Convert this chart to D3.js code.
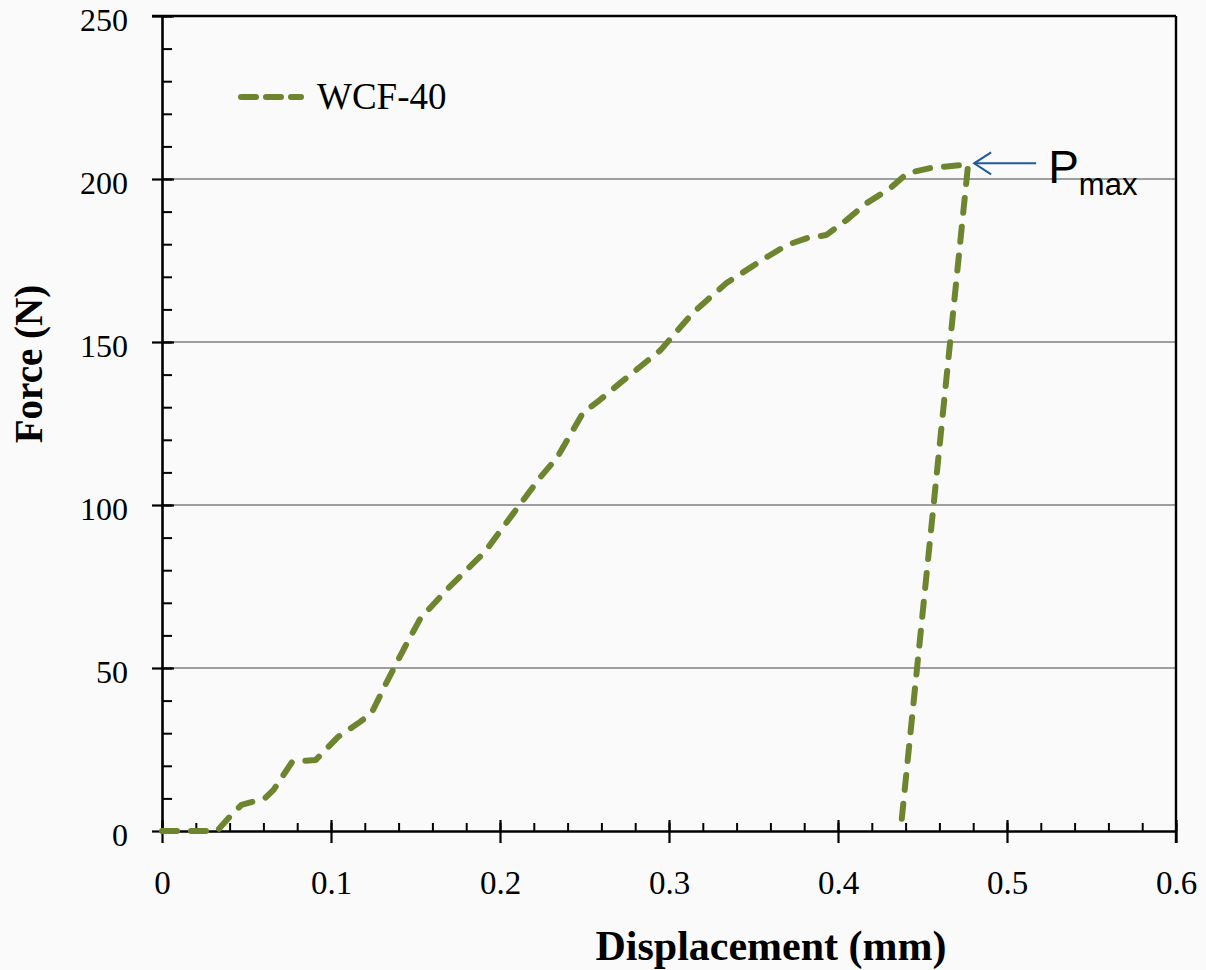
<!DOCTYPE html>
<html>
<head>
<meta charset="utf-8">
<script src="https://cdn.jsdelivr.net/npm/d3@7"></script>
<style>
  body { margin: 0; background: #fafafa; }
  svg { display: block; }
  .tick text { font-family: "Liberation Serif", serif; }
</style>
</head>
<body>
<div id="chart"></div>
<script>
// Force–displacement curve, WCF-40
const displacement = [0, 0.0325, 0.041, 0.047, 0.061, 0.066, 0.077, 0.091, 0.104, 0.117, 0.124, 0.133,
  0.145, 0.153, 0.170, 0.191, 0.208, 0.224, 0.234, 0.249, 0.259, 0.271, 0.295, 0.314, 0.334, 0.358,
  0.370, 0.382, 0.393, 0.405, 0.417, 0.431, 0.441, 0.455, 0.477, 0.437];
const force = [0, 0, 4.9, 8.0, 10.1, 12.6, 21.2, 21.8, 28.8, 33.4, 36.2, 45.7,
  57.7, 65.3, 74.8, 85.6, 97.5, 108.6, 114.7, 128.2, 132.2, 137.4, 147.5, 158.9, 168.1, 176.1,
  179.8, 181.9, 182.8, 187.4, 192.6, 197.2, 201.8, 203.4, 204.5, 0];

const xMajor = [0, 0.1, 0.2, 0.3, 0.4, 0.5, 0.6];
const yMajor = [0, 50, 100, 150, 200, 250];
const xMinor = d3.range(0, 0.6001, 0.02);
const yMinor = d3.range(0, 250.01, 10);

const seriesName = "WCF-40";
const peakLabel = "P";
const peakSub = "max";

const W = 1206, H = 970;
const mLeft = 162, mRight = 1176, mTop = 16, mBottom = 831;
const green = "#6e8530";

const svg = d3.select("#chart").append("svg")
  .attr("width", W).attr("height", H);

svg.append("rect").attr("width", W).attr("height", H).attr("fill", "#fafafa");

const x = d3.scaleLinear().domain([0, 0.6]).range([mLeft, mRight]);
const y = d3.scaleLinear().domain([0, 250]).range([mBottom, mTop]);

// gridlines
svg.append("g")
  .selectAll("line")
  .data(yMajor.filter(d => d > 0 && d < 250))
  .join("line")
  .attr("x1", mLeft).attr("x2", mRight)
  .attr("y1", d => y(d)).attr("y2", d => y(d))
  .attr("stroke", "#7f7f7f").attr("stroke-width", 1.6);

// frame
svg.append("line").attr("x1", mLeft - 10).attr("x2", mRight)
  .attr("y1", mTop).attr("y2", mTop).attr("stroke", "#000").attr("stroke-width", 2.4);
svg.append("line").attr("x1", mRight).attr("x2", mRight)
  .attr("y1", mTop).attr("y2", mBottom + 12).attr("stroke", "#000").attr("stroke-width", 2.4);

// minor ticks
svg.append("g").attr("transform", `translate(0,${mBottom})`)
  .call(d3.axisBottom(x).tickValues(xMinor).tickSize(-8).tickFormat(""))
  .call(g => g.select(".domain").remove())
  .selectAll("line").attr("stroke", "#000").attr("stroke-width", 2);
svg.append("g").attr("transform", `translate(${mLeft},0)`)
  .call(d3.axisLeft(y).tickValues(yMinor).tickSize(-10).tickFormat(""))
  .call(g => g.select(".domain").remove())
  .selectAll("line").attr("stroke", "#000").attr("stroke-width", 2);

// x axis
const gx = svg.append("g").attr("transform", `translate(0,${mBottom})`)
  .call(d3.axisBottom(x).tickValues(xMajor).tickSize(12).tickPadding(28)
    .tickFormat(d => d === 0 ? "0" : d3.format(".1f")(d)).tickSizeOuter(0));
gx.select(".domain").attr("stroke", "#000").attr("stroke-width", 2.6);
gx.selectAll(".tick line").attr("y1", -11).attr("stroke", "#000").attr("stroke-width", 2.2);
gx.selectAll(".tick text").attr("font-size", 33).attr("fill", "#000");

// y axis
const gy = svg.append("g").attr("transform", `translate(${mLeft},0)`)
  .call(d3.axisLeft(y).tickValues(yMajor).tickSize(10).tickPadding(24).tickSizeOuter(0));
gy.select(".domain").attr("stroke", "#000").attr("stroke-width", 2.6);
gy.selectAll(".tick line").attr("x1", 12).attr("stroke", "#000").attr("stroke-width", 2.2);
gy.selectAll(".tick text").attr("font-size", 32).attr("fill", "#000").attr("dy", "0.45em");

// axis titles
svg.append("text")
  .attr("x", 771).attr("y", 960)
  .attr("text-anchor", "middle")
  .attr("font-family", "Liberation Serif, serif").attr("font-weight", "bold")
  .attr("font-size", 42)
  .text("Displacement (mm)");
svg.append("text")
  .attr("transform", "translate(42,364) rotate(-90)")
  .attr("text-anchor", "middle")
  .attr("font-family", "Liberation Serif, serif").attr("font-weight", "bold")
  .attr("font-size", 39)
  .text("Force (N)");

// curve
const pts = displacement.map((d, i) => [d, force[i]]);
svg.append("path")
  .datum(pts)
  .attr("d", d3.line().x(d => x(d[0])).y(d => y(d[1])))
  .attr("fill", "none")
  .attr("stroke", green).attr("stroke-width", 6)
  .attr("stroke-linecap", "round").attr("stroke-linejoin", "round")
  .attr("stroke-dasharray", "15 14");

// legend
svg.append("line")
  .attr("x1", 241).attr("x2", 301).attr("y1", 97).attr("y2", 97)
  .attr("stroke", green).attr("stroke-width", 6)
  .attr("stroke-linecap", "round").attr("stroke-dasharray", "15 10");
svg.append("text")
  .attr("x", 317).attr("y", 109)
  .attr("font-family", "Liberation Serif, serif").attr("font-size", 37)
  .text(seriesName);

// Pmax annotation
const peakIdx = d3.maxIndex(force);
const px = x(displacement[peakIdx]) + 6, py = y(force[peakIdx]) - 1;
const arrow = svg.append("g").attr("stroke", "#1f5a9c").attr("stroke-width", 2).attr("fill", "none");
arrow.append("line").attr("x1", px).attr("x2", px + 62).attr("y1", py).attr("y2", py);
arrow.append("path").attr("d", `M${px + 17},${py - 11} L${px},${py} L${px + 17},${py + 11}`);

const pt = svg.append("text")
  .attr("x", px + 74).attr("y", 183)
  .attr("font-family", "Liberation Sans, Arial, sans-serif").attr("font-size", 46)
  .text(peakLabel);
pt.append("tspan").attr("font-size", 31).attr("dy", 12).text(peakSub);
</script>
</body>
</html>
